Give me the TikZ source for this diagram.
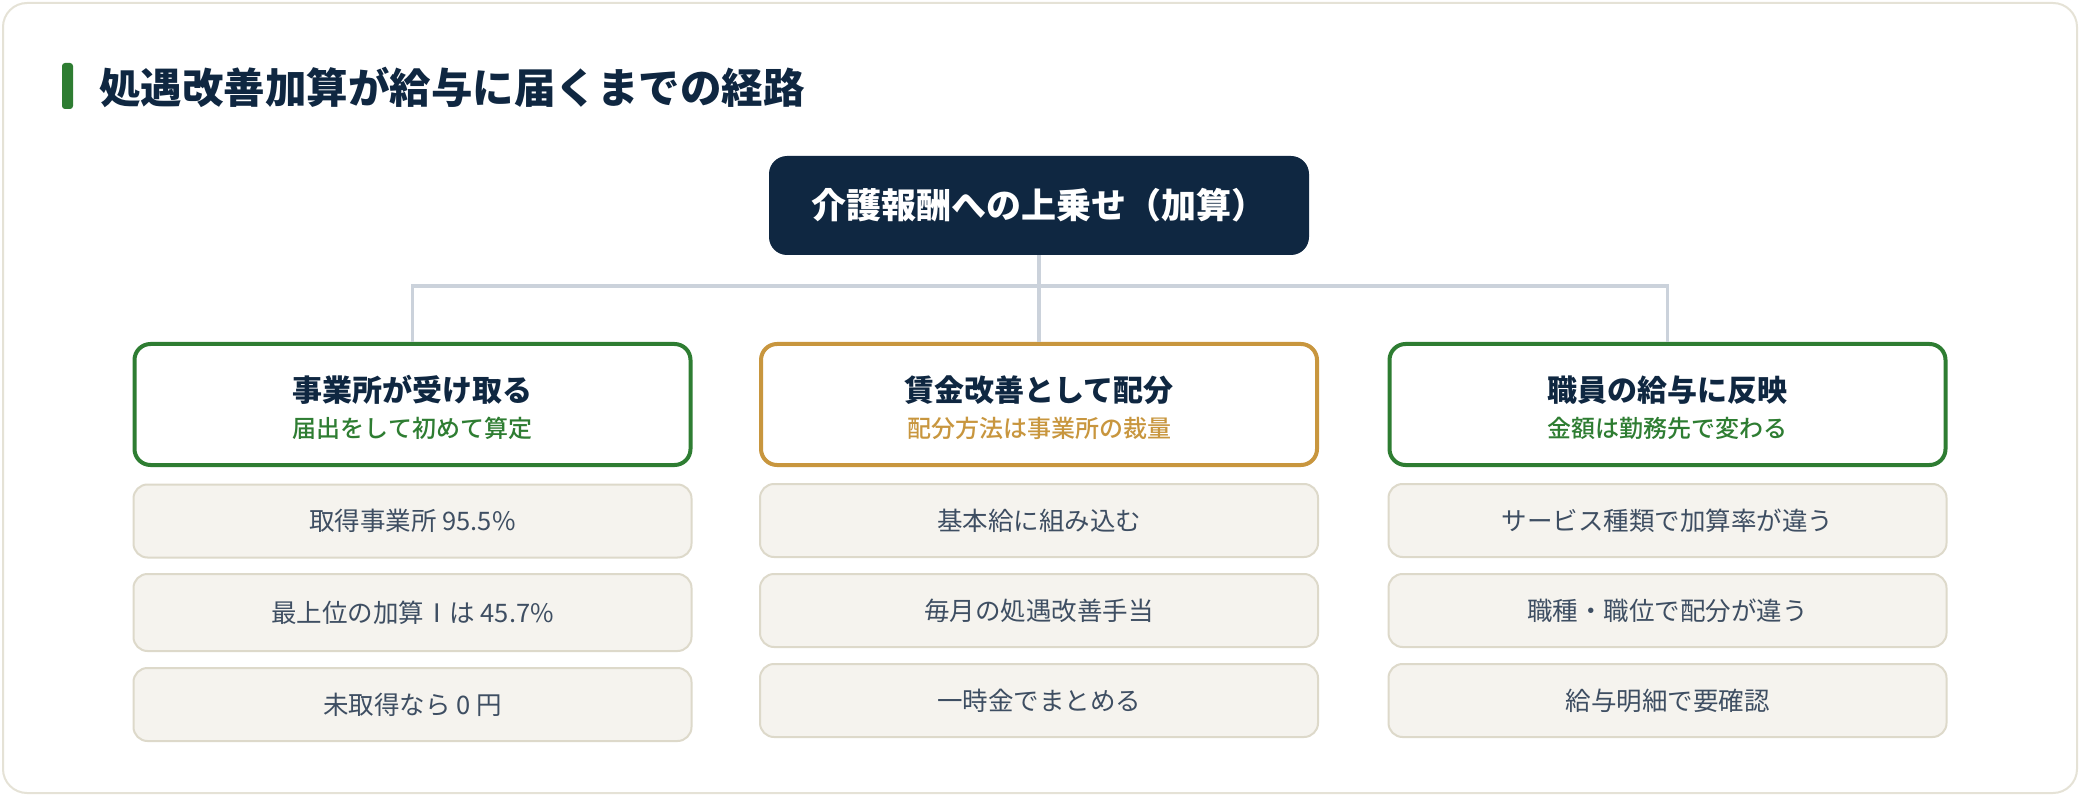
\documentclass[tikz,border=0pt]{standalone}
\usepackage{fontspec}
\newfontfamily\jp{Noto Sans CJK JP}
\newfontfamily\jpmed{Noto Sans CJK JP}[UprightFont={* Medium}]
\definecolor{navy}{HTML}{0F2741}
\definecolor{grn}{HTML}{2E7D32}
\definecolor{gold}{HTML}{C8963E}
\definecolor{linec}{HTML}{CBD2DB}
\definecolor{itemfill}{HTML}{F5F3EE}
\definecolor{itemdraw}{HTML}{DDD9CA}
\definecolor{itemtext}{HTML}{3E4E62}
\definecolor{framedraw}{HTML}{E5E2D6}
\tikzset{
  colbox/.style={draw=#1, line width=2pt, fill=white, rounded corners=8pt, minimum width=278pt, minimum height=60.5pt, inner sep=0pt},
  coltitle/.style={font=\jp\bfseries\fontsize{15pt}{18pt}\selectfont, text=navy, inner sep=0pt},
  colsub/.style={font=\jpmed\fontsize{12pt}{14pt}\selectfont, text=#1, inner sep=0pt},
  itembox/.style={draw=itemdraw, line width=1pt, fill=itemfill, rounded corners=7pt, minimum width=279pt, inner sep=0pt, font=\jp\fontsize{12.75pt}{15pt}\selectfont, text=itemtext},
  conn/.style={draw=linec, line width=1.75pt},
}
\begin{document}
\begin{tikzpicture}[x=0.5pt,y=-0.5pt]
\useasboundingbox (0,0) rectangle (2080,796);
\draw[draw=framedraw, line width=1pt, fill=white, rounded corners=12pt] (3,3) rectangle (2077,793);
% title
\fill[grn, rounded corners=1.5pt] (62,63) rectangle (73,109);
\node[anchor=west, inner sep=0pt, font=\jp\bfseries\fontsize{20.75pt}{24pt}\selectfont, text=navy] (title) at (99,87) {処遇改善加算が給与に届くまでの経路};
% top box
\node[fill=navy, rounded corners=9pt, minimum width=270pt, minimum height=49.5pt, inner sep=0pt, font=\jp\bfseries\fontsize{17.5pt}{20pt}\selectfont, text=white] (top) at (1039,205.5) {介護報酬への上乗せ（加算）};
% column boxes
\node[colbox=grn] (c1) at (412.5,404.5) {};
\node[colbox=gold] (c2) at (1039,404.5) {};
\node[colbox=grn] (c3) at (1667.5,404.5) {};
\node[coltitle] (c1t) at (412.5,390) {事業所が受け取る};
\node[colsub=grn] (c1s) at (412.5,428) {届出をして初めて算定};
\node[coltitle] (c2t) at (1039,390) {賃金改善として配分};
\node[colsub=gold] (c2s) at (1039,428) {配分方法は事業所の裁量};
\node[coltitle] (c3t) at (1667.5,390) {職員の給与に反映};
\node[colsub=grn] (c3s) at (1667.5,428) {金額は勤務先で変わる};
% connectors
\coordinate (j) at (1039,286);
\draw[conn] (top.south) -- (c2.north);
\draw[conn] (c1.north) |- (j) -| (c3.north);
% items
\node[itembox, minimum height=36.5pt] (i11) at (412.5,521) {取得事業所 95.5\%};
\node[itembox, minimum height=38.5pt] (i12) at (412.5,612.5) {最上位の加算Ⅰは 45.7\%};
\node[itembox, minimum height=36.5pt] (i13) at (412.5,704.5) {未取得なら 0 円};
\node[itembox, minimum height=36.5pt] (i21) at (1039,520.5) {基本給に組み込む};
\node[itembox, minimum height=36.5pt] (i22) at (1039,610.5) {毎月の処遇改善手当};
\node[itembox, minimum height=36.5pt] (i23) at (1039,700.5) {一時金でまとめる};
\node[itembox, minimum height=36.5pt] (i31) at (1667.5,520.5) {サービス種類で加算率が違う};
\node[itembox, minimum height=36.5pt] (i32) at (1667.5,610.5) {職種・職位で配分が違う};
\node[itembox, minimum height=36.5pt] (i33) at (1667.5,700.5) {給与明細で要確認};
\end{tikzpicture}
\end{document}
